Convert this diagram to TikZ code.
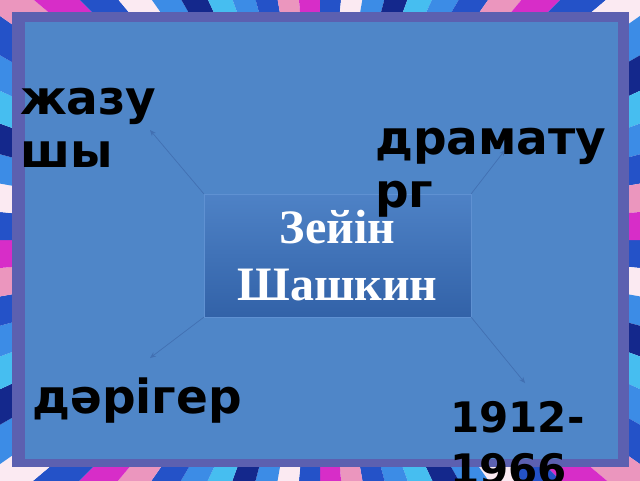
\documentclass[tikz,border=0pt]{standalone}
\usepackage{fontspec}
\setmainfont{Liberation Serif}
\newfontfamily\labelfont{DejaVu Sans}
\usetikzlibrary{arrows.meta}

\definecolor{panelblue}{RGB}{79,134,200}
\definecolor{framepurple}{RGB}{92,96,176}
\definecolor{edgeblue}{RGB}{36,82,200}
\definecolor{darkblue}{RGB}{20,40,140}
\definecolor{skyblue}{RGB}{60,140,230}
\definecolor{stripecyan}{RGB}{70,190,240}
\definecolor{stripepink}{RGB}{235,150,190}
\definecolor{stripemagenta}{RGB}{215,45,200}
\definecolor{boxtop}{RGB}{78,130,198}
\definecolor{boxbottom}{RGB}{50,98,168}
\definecolor{boxedge}{RGB}{95,145,210}
\definecolor{linkblue}{RGB}{66,112,178}

\tikzset{
  role/.style={font=\labelfont\bfseries\fontsize{47}{53}\selectfont, text=black,
    inner sep=0pt, align=left, anchor=base west},
  namebox/.style={top color=boxtop, bottom color=boxbottom, draw=boxedge,
    minimum width=267pt, minimum height=123pt, text=white, align=center,
    font=\bfseries\fontsize{48}{57}\selectfont},
  link/.style={draw=linkblue, line width=0.7pt, -{Stealth[length=6pt,width=5pt]}},
}

\begin{document}
\begin{tikzpicture}[x=1pt, y=-1pt]
    \useasboundingbox (0,0) rectangle (640,480);
    \clip (0,0) rectangle (640,480);

    % Striped tunnel round the slide
    \foreach \a in {0,5,...,355} {
        \pgfmathtruncatemacro\k{mod(\a*7/5,9)}
        \ifcase\k \def\tone{edgeblue}\or \def\tone{stripecyan}\or \def\tone{stripemagenta}%
        \or \def\tone{darkblue}\or \def\tone{stripepink}\or \def\tone{skyblue}%
        \or \def\tone{edgeblue}\or \def\tone{white!80!stripepink}\or \def\tone{skyblue}\fi
        \fill[\tone] (320,240) -- +(\a:700) -- +(\a+5:700) -- cycle;
    }

    % Frame and panel
    \fill[framepurple] (12,12) rectangle (629,467);
    \fill[panelblue] (25,22) rectangle (618,459);

    % Central name
    \node[namebox] (hero) at (337.5,255.5) {Зейін\\Шашкин};

    % Connectors
    \coordinate (writertip) at (150,130);
    \coordinate (dramatip) at (505,150);
    \coordinate (doctortip) at (150,358);
    \coordinate (yearstip) at (525,383);
    \draw[link] (hero.north west) -- (writertip);
    \draw[link] (hero.north east) -- (dramatip);
    \draw[link] (hero.south west) -- (doctortip);
    \draw[link] (hero.south east) -- (yearstip);

    % Labels
    \node[role] (writer) at (20,167) {жазу\\шы};
    \node[role] (drama) at (375,207) {драмату\\рг};
    \node[role] (doctor) at (32,413) {дәрігер};
    \node[role, font=\labelfont\bfseries\fontsize{42}{52}\selectfont] (years) at (450,484) {1912-\\1966};
\end{tikzpicture}
\end{document}
